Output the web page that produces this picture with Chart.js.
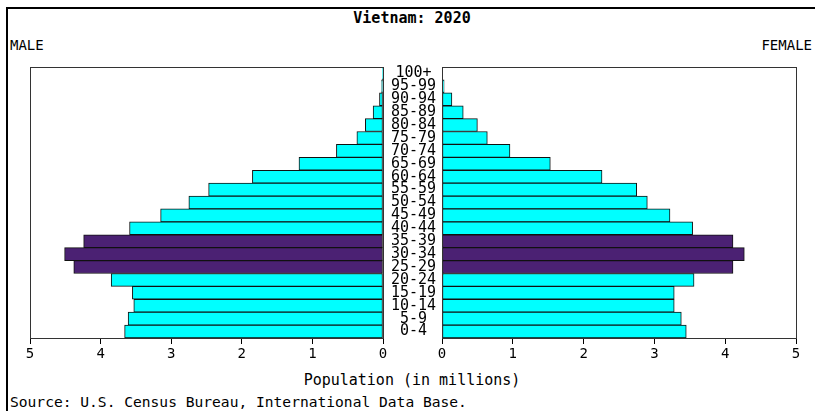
<!DOCTYPE html>
<html lang="en">

<head>
    <meta charset="UTF-8">
    <title>Vietnam: 2020</title>
    <script src="https://cdn.jsdelivr.net/npm/chart.js@4"></script>
    <style>
        body { margin: 0; background: #fff; width: 815px; height: 411px; overflow: hidden; position: relative; font-family: "DejaVu Sans Mono", monospace; }
        .txt { position: absolute; color: #000; white-space: nowrap; line-height: 1; }
        #frame { position: absolute; left: 6px; top: 7px; width: 830px; height: 420px; border-top: 2px solid #000; border-left: 2px solid #000; }
        canvas { position: absolute; top: 0; }
    </style>
</head>

<body>
    <div id="frame"></div>
    <div class="txt" style="left:0;width:824px;text-align:center;top:11px;font-size:15px;font-weight:bold;">Vietnam: 2020</div>
    <div class="txt" style="left:10px;top:38px;font-size:14px;">MALE</div>
    <div class="txt" style="right:3px;top:38px;font-size:14px;">FEMALE</div>
    <canvas id="male" width="442" height="370" style="left:0"></canvas>
    <canvas id="female" width="403" height="370" style="left:412px"></canvas>
    <div class="txt" style="left:0;width:824px;text-align:center;top:373px;font-size:15px;">Population (in millions)</div>
    <div class="txt" style="left:10px;top:395px;font-size:14.6px;">Source: U.S. Census Bureau, International Data Base.</div>
    <script>
        // age groups, top to bottom
        const ageGroups = ['100+', '95-99', '90-94', '85-89', '80-84', '75-79', '70-74', '65-69', '60-64', '55-59',
            '50-54', '45-49', '40-44', '35-39', '30-34', '25-29', '20-24', '15-19', '10-14', '5-9', '0-4'];

        // population in millions
        const male = [0.005, 0.02, 0.05, 0.14, 0.25, 0.37, 0.66, 1.19, 1.85, 2.47,
            2.75, 3.15, 3.59, 4.24, 4.51, 4.38, 3.85, 3.55, 3.53, 3.61, 3.66];
        const female = [0.005, 0.03, 0.14, 0.30, 0.50, 0.64, 0.96, 1.53, 2.26, 2.75,
            2.90, 3.22, 3.54, 4.11, 4.27, 4.11, 3.56, 3.28, 3.28, 3.38, 3.45];

        const highlighted = ['25-29', '30-34', '35-39'];
        const xTicks = [0, 1, 2, 3, 4, 5];

        const colors = ageGroups.map(g => highlighted.includes(g) ? '#4b2173' : '#00ffff');
        const mono = "'DejaVu Sans Mono', monospace";

        // box around the plot area
        const boxPlugin = {
            id: 'box',
            afterDatasetsDraw(chart) {
                const a = chart.chartArea;
                const ctx = chart.ctx;
                ctx.save();
                ctx.strokeStyle = '#333';
                ctx.lineWidth = 1;
                ctx.strokeRect(Math.round(a.left) + 0.5, Math.round(a.top) + 0.5,
                    Math.round(a.right - a.left), Math.round(a.bottom - a.top));
                ctx.restore();
            }
        };

        function makeChart(id, values, isLeft) {
            let ctx = document.getElementById(id).getContext('2d');
            return new Chart(ctx, {
                type: 'bar',
                data: {
                    labels: ageGroups,
                    datasets: [{
                        data: values,
                        backgroundColor: colors,
                        borderColor: '#111',
                        borderWidth: 1,
                        borderSkipped: false,
                        barPercentage: 1,
                        categoryPercentage: 1
                    }]
                },
                options: {
                    indexAxis: 'y',
                    responsive: false,
                    animation: false,
                    layout: {
                        padding: isLeft ? { left: 30, top: 67, right: 0, bottom: 0 }
                            : { left: 30, top: 67, right: 19, bottom: 0 }
                    },
                    plugins: { legend: { display: false }, tooltip: { enabled: false } },
                    scales: {
                        x: {
                            reverse: isLeft,
                            min: 0,
                            max: 5,
                            afterFit: s => { s.height = 32; },
                            afterBuildTicks: s => { s.ticks = xTicks.map(v => ({ value: v })); },
                            grid: { drawOnChartArea: false, drawTicks: true, tickLength: 6, color: '#000', tickWidth: 1 },
                            border: { display: true, color: '#333' },
                            ticks: { color: '#000', padding: 2, font: { family: mono, size: 14 } }
                        },
                        y: {
                            display: isLeft,
                            position: 'right',
                            afterFit: s => { s.width = isLeft ? 59 : 0; },
                            grid: { display: false },
                            border: { display: false },
                            ticks: {
                                autoSkip: false,
                                crossAlign: 'center',
                                padding: 0,
                                color: '#000',
                                font: { family: mono, size: 15 }
                            }
                        }
                    }
                },
                plugins: [boxPlugin]
            });
        }

        makeChart('male', male, true);
        makeChart('female', female, false);
    </script>
</body>

</html>
